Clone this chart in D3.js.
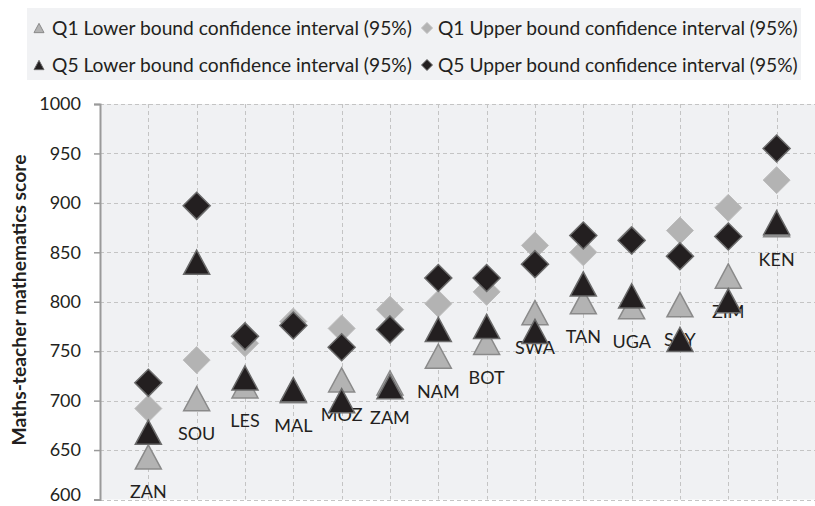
<!DOCTYPE html>
<html><head><meta charset="utf-8">
<script src="https://cdn.jsdelivr.net/npm/d3@7"></script>
<style>html,body{margin:0;padding:0;background:#fff;}svg{display:block;}</style>
</head><body>
<svg id="chart" width="815" height="506"></svg>
<script>
const categories = ["ZAN","SOU","LES","MAL","MOZ","ZAM","NAM","BOT","SWA","TAN","UGA","SAY","ZIM","KEN"];
const q1Lower = [643,702,715,710,721,718,745,759,789,800,795,797,826,878];
const q1Upper = [692,741,758,780,773,792,798,810,857,850,863,872,895,923];
const q5Lower = [668,840,723,711,700,714,772,775,770,818,806,762,801,880];
const q5Upper = [718,897,765,776,754,772,824,824,838,867,862,846,866,955];
const yTicks = [600,650,700,750,800,850,900,950,1000];
const legendLabels = ["Q1 Lower bound confidence interval (95%)","Q1 Upper bound confidence interval (95%)",
                      "Q5 Lower bound confidence interval (95%)","Q5 Upper bound confidence interval (95%)"];
const yTitle = "Maths-teacher mathematics score";

const svg = d3.select("#chart");
const FONT = "Lato, 'Open Sans', sans-serif";
const TXT = "#231f20";
const plotL = 100, plotR = 815, plotT = 104, plotB = 499.5;

const x = d3.scaleLinear().domain([0, 15]).range([plotL, plotL + 48.33 * 15]);
const y = d3.scaleLinear().domain([600, 1000]).range([plotB, plotT]);

function fit(sel, target) {
  sel.each(function() {
    const n = d3.select(this);
    const fs = parseFloat(n.attr("font-size"));
    const w = this.getComputedTextLength();
    if (w > 0) n.attr("font-size", (fs * target / w).toFixed(2));
  });
}

// legend box
svg.append("rect").attr("x", 27).attr("y", 8).attr("width", 774).attr("height", 72).attr("fill", "#f1f2f4");
// plot background
svg.append("rect").attr("x", plotL).attr("y", plotT).attr("width", plotR - plotL).attr("height", plotB - plotT).attr("fill", "#f0f1f3");

// gridlines
const grid = svg.append("g").attr("stroke", "#c4c4c4").attr("stroke-width", 1).attr("stroke-dasharray", "4,3").attr("fill", "none");
grid.selectAll("line.h").data(yTicks).join("line").attr("class", "h")
  .attr("x1", plotL).attr("x2", plotR).attr("y1", d => Math.round(y(d)) + 0.5).attr("y2", d => Math.round(y(d)) + 0.5);
grid.selectAll("line.v").data(d3.range(1, 16)).join("line").attr("class", "v")
  .attr("x1", d => Math.round(x(d)) + 0.5).attr("x2", d => Math.round(x(d)) + 0.5).attr("y1", plotT).attr("y2", plotB);

// y axis
const yAxis = d3.axisLeft(y).tickValues(yTicks).tickSize(6).tickPadding(13).tickFormat(d3.format("d"));
const ax = svg.append("g").attr("transform", `translate(${plotL},0)`).call(yAxis);
ax.select(".domain").attr("stroke", "#9a9a9a").attr("stroke-width", 2);
ax.selectAll(".tick line").attr("stroke", "#9a9a9a").attr("stroke-width", 1.5);
ax.selectAll(".tick text").attr("font-family", FONT).attr("font-size", 18).attr("fill", TXT)
  .attr("dy", d => d === 600 ? "0.08em" : "0.32em");

// y title
const yt = svg.append("text").attr("transform", "translate(26,300) rotate(-90)").attr("text-anchor", "middle")
  .attr("font-family", FONT).attr("font-weight", "bold").attr("font-size", 16).attr("fill", TXT).text(yTitle);
fit(yt, 291);

function triPath(w) {
  const h = w * 0.93;
  return `M0,${-h/2}L${w/2},${h/2}L${-w/2},${h/2}Z`;
}
function diaPath(r) { return `M0,${-r}L${r},0L0,${r}L${-r},0Z`; }

const Q1FILL = "#b3b3b3", Q1STROKE = "#8a8a8a", Q5FILL = "#231f20", Q5STROKE = "#6a6a6a";

function drawSeries(vals, path, fill, stroke, sw) {
  svg.append("g").selectAll("path").data(vals).join("path")
    .attr("transform", (d, i) => `translate(${x(i + 1)},${y(d)})`)
    .attr("d", path).attr("fill", fill).attr("stroke", stroke).attr("stroke-width", sw);
}

drawSeries(q1Lower, triPath(26), Q1FILL, Q1STROKE, 1.5);
drawSeries(q1Upper, diaPath(13.5), Q1FILL, "#bdbdbd", 1);

// category labels (below Q1 lower bound)
svg.append("g").selectAll("text").data(categories).join("text")
  .attr("x", (d, i) => x(i + 1)).attr("y", (d, i) => y(q1Lower[i]) + 35).attr("dy", "0.36em")
  .attr("text-anchor", "middle").attr("font-family", FONT).attr("font-size", 18).attr("fill", TXT).text(d => d);

drawSeries(q5Lower, triPath(26), Q5FILL, Q5STROKE, 1.5);
drawSeries(q5Upper, diaPath(13.5), Q5FILL, Q5STROKE, 1.5);

// legend
const legItems = [
  {lab: legendLabels[0], mx: 39, tx: 52, cy: 28, shape: "tri", fill: Q1FILL, stroke: Q1STROKE},
  {lab: legendLabels[1], mx: 427, tx: 438, cy: 28, shape: "dia", fill: Q1FILL, stroke: "#bdbdbd"},
  {lab: legendLabels[2], mx: 39, tx: 52, cy: 65, shape: "tri", fill: Q5FILL, stroke: Q5STROKE},
  {lab: legendLabels[3], mx: 427, tx: 438, cy: 65, shape: "dia", fill: Q5FILL, stroke: Q5STROKE}
];
const lg = svg.append("g");
legItems.forEach(it => {
  lg.append("path").attr("transform", `translate(${it.mx},${it.cy})`)
    .attr("d", it.shape === "tri" ? triPath(10) : diaPath(5.5))
    .attr("fill", it.fill).attr("stroke", it.stroke).attr("stroke-width", 1);
  const t = lg.append("text").attr("x", it.tx).attr("y", it.cy).attr("dy", "0.35em")
    .attr("font-family", FONT).attr("font-size", 18).attr("fill", TXT).text(it.lab);
  fit(t, 360);
});
</script>
</body></html>
